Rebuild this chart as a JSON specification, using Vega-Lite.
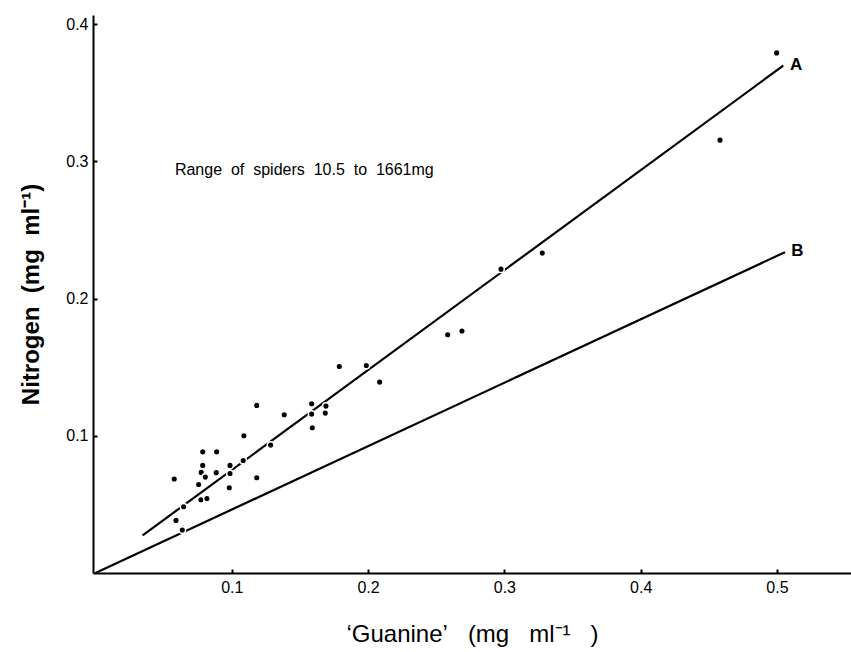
{
  "$schema": "https://vega.github.io/schema/vega-lite/v6.json",
  "width": 758,
  "height": 558,
  "autosize": {"type": "none"},
  "padding": {"left": 93, "top": 15, "right": 0, "bottom": 79},
  "background": "white",
  "config": {
    "view": {"stroke": null},
    "font": "Liberation Sans",
    "axis": {
      "grid": false,
      "domainColor": "black",
      "domainWidth": 2,
      "tickColor": "black",
      "tickWidth": 2,
      "tickSize": -4,
      "labelFont": "Liberation Sans",
      "labelFontSize": 16,
      "labelColor": "black",
      "titleFont": "Liberation Sans",
      "titleColor": "black"
    }
  },
  "datasets": {
    "lines": [
      {"line": "A", "x": 0.0346, "y": 0.0274},
      {"line": "A", "x": 0.5046, "y": 0.3697},
      {"line": "B", "x": 0.0, "y": 0.0},
      {"line": "B", "x": 0.5059, "y": 0.2338}
    ],
    "points": [
      {"x": 0.1183, "y": 0.1221}, {"x": 0.1385, "y": 0.1153}, {"x": 0.1089, "y": 0.1000},
      {"x": 0.0787, "y": 0.0883}, {"x": 0.0889, "y": 0.0883}, {"x": 0.1285, "y": 0.0932},
      {"x": 0.1084, "y": 0.0820}, {"x": 0.0787, "y": 0.0784}, {"x": 0.0987, "y": 0.0784},
      {"x": 0.0578, "y": 0.0685}, {"x": 0.0776, "y": 0.0733}, {"x": 0.0806, "y": 0.0699},
      {"x": 0.0886, "y": 0.0731}, {"x": 0.0987, "y": 0.0725}, {"x": 0.1183, "y": 0.0694},
      {"x": 0.0757, "y": 0.0645}, {"x": 0.0982, "y": 0.0621}, {"x": 0.0774, "y": 0.0534},
      {"x": 0.0818, "y": 0.0543}, {"x": 0.0647, "y": 0.0483}, {"x": 0.0591, "y": 0.0383},
      {"x": 0.0637, "y": 0.0313}, {"x": 0.1789, "y": 0.1505}, {"x": 0.1987, "y": 0.1512},
      {"x": 0.2085, "y": 0.1391}, {"x": 0.1586, "y": 0.1233}, {"x": 0.1691, "y": 0.1216},
      {"x": 0.1586, "y": 0.1158}, {"x": 0.1686, "y": 0.1165}, {"x": 0.1591, "y": 0.1058},
      {"x": 0.2584, "y": 0.1736}, {"x": 0.2689, "y": 0.1763}, {"x": 0.2975, "y": 0.2214},
      {"x": 0.3278, "y": 0.2331}, {"x": 0.4582, "y": 0.3154}, {"x": 0.4998, "y": 0.3790}
    ],
    "lineLabels": [
      {"x": 0.5095, "y": 0.3705, "text": "A"},
      {"x": 0.5105, "y": 0.2345, "text": "B"}
    ],
    "note": [
      {"x": 0.0583, "y": 0.2937, "text": "Range\u00a0\u00a0of\u00a0\u00a0spiders\u00a0\u00a010.5\u00a0\u00a0to\u00a0\u00a01661mg"}
    ]
  },
  "layer": [
    {
      "data": {"name": "lines"},
      "mark": {"type": "line", "color": "black", "strokeWidth": 2.2},
      "encoding": {
        "x": {
          "field": "x", "type": "quantitative",
          "scale": {"domain": [-0.0018, 0.5543], "nice": false, "zero": false},
          "axis": {
            "values": [0.1, 0.2, 0.3, 0.4, 0.5],
            "format": ".1f",
            "labelPadding": 10,
            "title": "‘Guanine’\u00a0\u00a0\u00a0(mg\u00a0\u00a0\u00a0ml⁻¹\u00a0\u00a0\u00a0)",
            "titleFontSize": 24,
            "titleFontWeight": "normal",
            "titlePadding": 27
          }
        },
        "y": {
          "field": "y", "type": "quantitative",
          "scale": {"domain": [0, 0.4066], "nice": false, "zero": false},
          "axis": {
            "values": [0.1, 0.2, 0.3, 0.4],
            "format": ".1f",
            "labelPadding": 9,
            "title": "Nitrogen\u00a0\u00a0(mg\u00a0\u00a0ml⁻¹)",
            "titleFontSize": 24,
            "titleFontWeight": "bold",
            "titlePadding": 22
          }
        },
        "detail": {"field": "line", "type": "nominal"}
      }
    },
    {
      "data": {"name": "points"},
      "mark": {"type": "point", "filled": true, "fill": "black", "stroke": "white", "strokeWidth": 1.5, "size": 44, "opacity": 1, "shape": "circle"},
      "encoding": {
        "x": {"field": "x", "type": "quantitative"},
        "y": {"field": "y", "type": "quantitative"}
      }
    },
    {
      "data": {"name": "lineLabels"},
      "mark": {"type": "text", "align": "left", "baseline": "middle", "fontSize": 17, "fontWeight": "bold", "color": "black"},
      "encoding": {
        "x": {"field": "x", "type": "quantitative"},
        "y": {"field": "y", "type": "quantitative"},
        "text": {"field": "text"}
      }
    },
    {
      "data": {"name": "note"},
      "mark": {"type": "text", "align": "left", "baseline": "middle", "fontSize": 16, "color": "black"},
      "encoding": {
        "x": {"field": "x", "type": "quantitative"},
        "y": {"field": "y", "type": "quantitative"},
        "text": {"field": "text"}
      }
    }
  ]
}
